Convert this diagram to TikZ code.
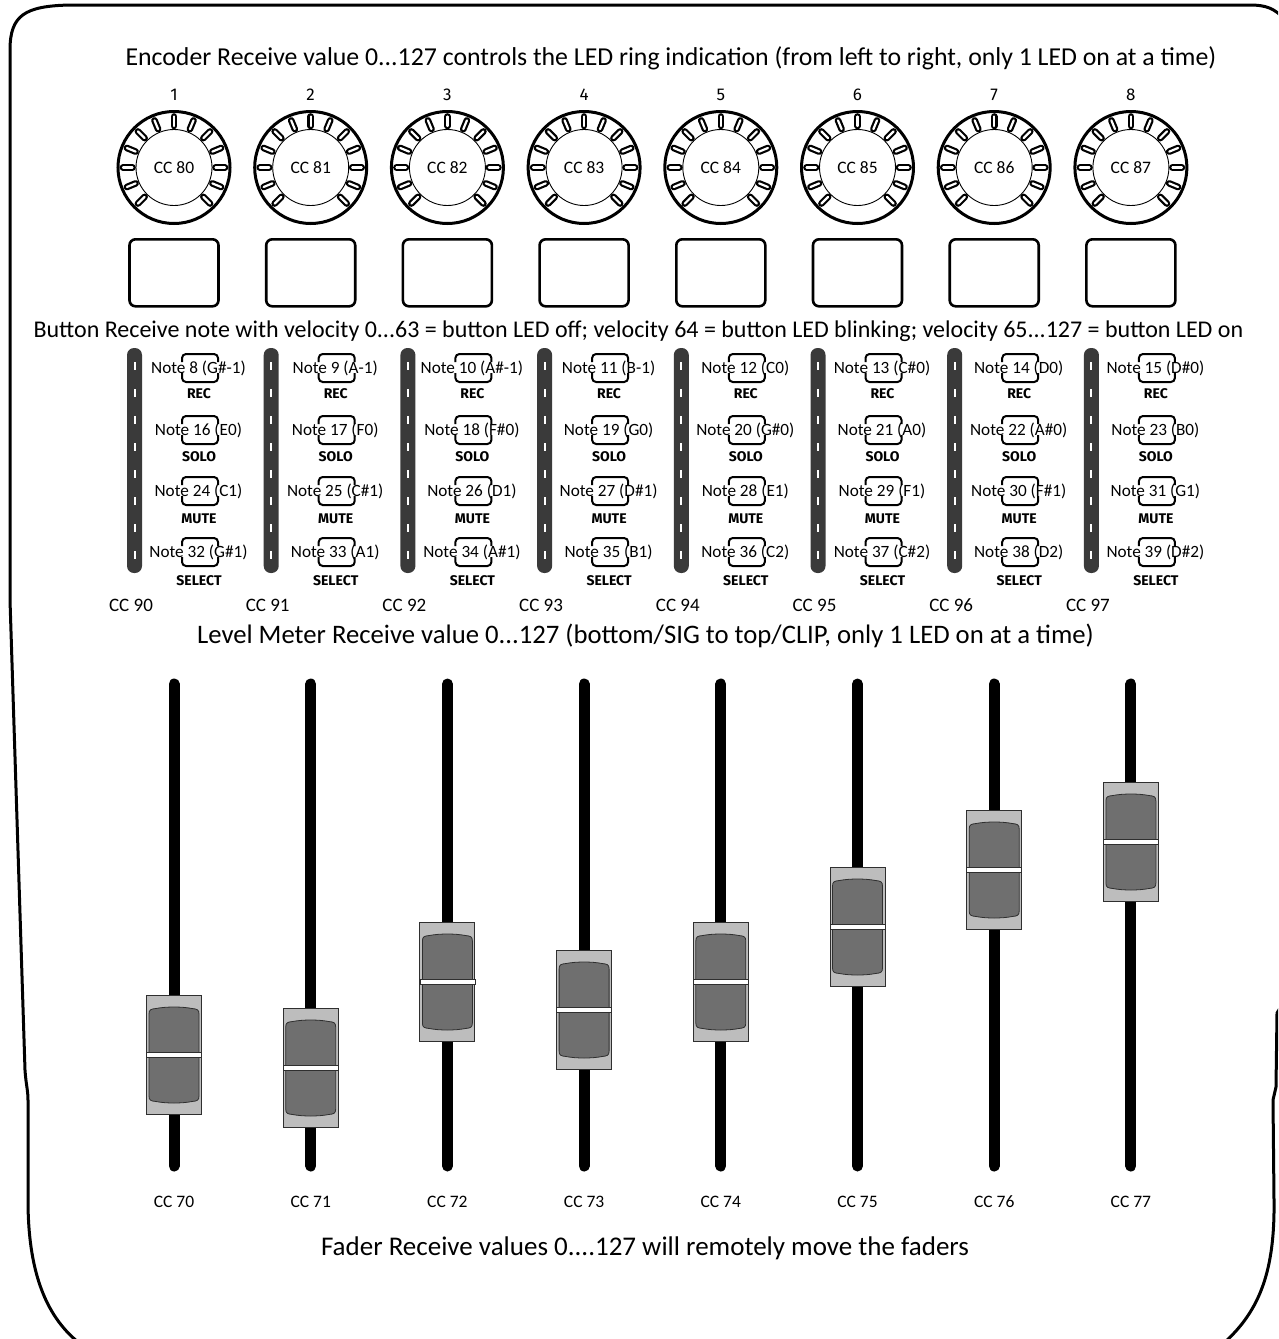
\documentclass[tikz,border=0pt]{standalone}
\usepackage{fontspec}
\setmainfont{Carlito}
\newfontfamily\firafont{Fira Sans}
\definecolor{meterdark}{HTML}{3A3A3A}
\definecolor{capgray}{HTML}{BDBDBD}
\definecolor{capdark}{HTML}{6F6F6F}
\definecolor{capline}{HTML}{2F2F2F}
\begin{document}
\begin{tikzpicture}[x=1pt,y=-1pt,
  title/.style={inner sep=0, anchor=base},
  knobtxt/.style={circle, draw, line width=0.9, minimum size=76, inner sep=0},
  ring/.style={line width=3},
  led/.style={line width=2.2, double=white, double distance=2.2, line cap=round},
  btn/.style={draw, line width=2.6, rounded corners=6, minimum width=89, minimum height=67, inner sep=0},
  meter/.style={fill=meterdark, rounded corners=7, minimum width=15, minimum height=225, inner sep=0},
  tickw/.style={white, line width=2},
  brk/.style={line width=2, rounded corners=4},
  note/.style={font=\fontsize{17.2}{19}\selectfont, inner sep=0, anchor=base},
  lbl/.style={font=\firafont\bfseries\fontsize{14}{16}\selectfont, inner sep=0, anchor=base},
  num/.style={font=\firafont\fontsize{17}{19}\selectfont, inner sep=0, anchor=base},
  ccm/.style={font=\fontsize{19}{21}\selectfont, inner sep=0, anchor=base},
  ccf/.style={font=\fontsize{17.5}{19}\selectfont, inner sep=0, anchor=base},
  track/.style={line width=11, line cap=round},
  capout/.style={draw=capline, fill=capgray, line width=1, minimum width=55, minimum height=119, inner sep=0},
  capin/.style={draw=capline, fill=capdark, line width=0.8},
  border/.style={line width=3}
]
\useasboundingbox (0,0) rectangle (1278,1339);
\clip (0,0) rectangle (1278,1339);

% outer border
\draw[border] (78,1342) .. controls (45,1315) and (28,1270) .. (28,1200)
  -- (28,1100) .. controls (28,1090) and (26,1085) .. (25,1070)
  -- (10,600) -- (10,50) .. controls (10,15) and (25,6) .. (70,5)
  -- (1250,5) .. controls (1265,5) and (1275,8) .. (1285,20)
  -- (1285,1000) -- (1277,1013) -- (1276,1087) -- (1273,1100)
  -- (1274,1200) .. controls (1275,1270) and (1260,1310) .. (1225,1342);

% titles
\node[title, font=\fontsize{25.8}{28}\selectfont] (t1) at (671,65.3) {Encoder Receive value 0...127 controls the LED ring indication (from left to right, only 1 LED on at a time)};
\node[title, font=\fontsize{24}{27}\selectfont] (t2) at (638.5,337.7) {Button Receive note with velocity 0...63 = button LED off; velocity 64 = button LED blinking; velocity 65...127 = button LED on};
\node[title, font=\fontsize{26.7}{29}\selectfont] (t3) at (645.5,643.6) {Level Meter Receive value 0...127 (bottom/SIG to top/CLIP, only 1 LED on at a time)};
\node[title, font=\fontsize{27}{30}\selectfont] (t4) at (645,1255.7) {Fader Receive values 0....127 will remotely move the faders};

\foreach \i/\x/\fy/\na/\nb/\nc/\nd in {
  1/174/1055/G\#-1/E0/C1/G\#1,
  2/310.7/1068/A-1/F0/C\#1/A1,
  3/447.4/982/A\#-1/F\#0/D1/A\#1,
  4/584.1/1010/B-1/G0/D\#1/B1,
  5/720.8/982/C0/G\#0/E1/C2,
  6/857.5/927/C\#0/A0/F1/C\#2,
  7/994.2/870/D0/A\#0/F\#1/D2,
  8/1130.9/842/D\#0/B0/G1/D\#2}{
  \pgfmathtruncatemacro{\cck}{79+\i}
  \pgfmathtruncatemacro{\ccl}{89+\i}
  \pgfmathtruncatemacro{\ccv}{69+\i}
  \pgfmathtruncatemacro{\ma}{7+\i}
  \pgfmathtruncatemacro{\mb}{15+\i}
  \pgfmathtruncatemacro{\mc}{23+\i}
  \pgfmathtruncatemacro{\md}{31+\i}
  % encoder
  \node[num] (num\i) at (\x,100) {\i};
  \node[knobtxt] (knob\i) at (\x,167.5) {};
  \node[inner sep=0, anchor=base, font=\fontsize{17.5}{20}\selectfont] (knobl\i) at (\x,173.2) {CC \cck};
  \draw[ring] (knob\i.center) circle[radius=56pt];
  \foreach \a in {-45,-22.5,...,225}{
    \draw[led] ({\x+41.5*cos(\a)},{167.5-41.5*sin(\a)}) -- ({\x+51*cos(\a)},{167.5-51*sin(\a)});
  }
  % button
  \node[btn] (btn\i) at (\x,272.8) {};
  % meter
  \node[meter] (bar\i) at ({\x-39.5},460.5) {};
  \foreach \k in {0,...,7}{
    \draw[tickw] ({\x-39.5},{362+27*\k}) -- ({\x-39.5},{370+27*\k});
  }
  \node[ccm] (ccm\i) at ({\x-43},611.5) {CC \ccl};
  % button notes
  \foreach \r/\yy/\ly/\nn/\nm/\lab in {1/368/394/\ma/\na/REC, 2/430/457/\mb/\nb/SOLO, 3/491/519/\mc/\nc/MUTE, 4/552/581/\md/\nd/SELECT}{
    \draw[brk] ({\x+8},{\yy-6}) -- ({\x+8},{\yy-14}) -- ({\x+44},{\yy-14}) -- ({\x+44},{\yy-6});
    \draw[brk] ({\x+8},{\yy+5}) -- ({\x+8},{\yy+14}) -- ({\x+44},{\yy+14}) -- ({\x+44},{\yy+5});
    \node[note] (note\i-\r) at ({\x+24.5},{\yy+5.5}) {Note \nn\ (\nm)};
    \node[lbl] (lab\i-\r) at ({\x+25},{\ly+4.8}) {\lab};
  }
  % fader
  \draw[track] (\x,684) -- (\x,1166);
  \node[capout] (fader\i) at (\x,\fy) {};
  \draw[capin] ({\x-25},{\fy-41})
    .. controls ({\x-25},{\fy-45.5}) and ({\x-23},{\fy-46}) .. ({\x-18},{\fy-46.5})
    .. controls ({\x-8},{\fy-48.5}) and ({\x+8},{\fy-48.5}) .. ({\x+18},{\fy-46.5})
    .. controls ({\x+23},{\fy-46}) and ({\x+25},{\fy-45.5}) .. ({\x+25},{\fy-41})
    -- ({\x+25},{\fy+41})
    .. controls ({\x+25},{\fy+45.5}) and ({\x+23},{\fy+46}) .. ({\x+18},{\fy+46.5})
    .. controls ({\x+8},{\fy+48.5}) and ({\x-8},{\fy+48.5}) .. ({\x-18},{\fy+46.5})
    .. controls ({\x-23},{\fy+46}) and ({\x-25},{\fy+45.5}) .. ({\x-25},{\fy+41}) -- cycle;
  \filldraw[fill=white, draw=capline, line width=0.5] ({\x-27.5},{\fy-2.4}) rectangle ({\x+27.5},{\fy+2.4});
  \node[ccf] (ccf\i) at (\x,1207.5) {CC \ccv};
}
\end{tikzpicture}
\end{document}
